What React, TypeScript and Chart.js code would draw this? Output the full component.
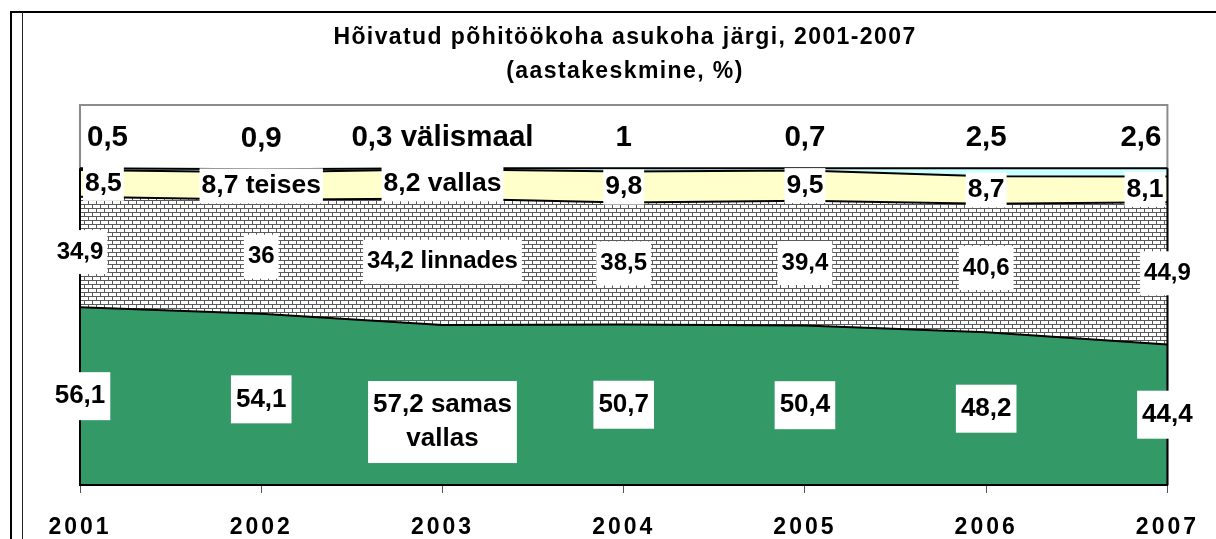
import React, { useEffect, useRef } from 'react';
import { Chart, registerables } from 'chart.js';

Chart.register(...registerables);

// ---- data ----
const years = ['2001', '2002', '2003', '2004', '2005', '2006', '2007'];
const samasVallas = [56.1, 54.1, 50.5, 50.7, 50.4, 48.2, 44.4];
const teisesLinnas = [34.9, 36.0, 40.0, 38.5, 39.4, 40.6, 44.9];
const teisesVallas = [8.5, 8.7, 9.2, 9.8, 9.5, 8.7, 8.1];
const valismaal = [0.5, 0.9, 0.3, 1.0, 0.7, 2.5, 2.6];

// data-label texts as printed on the chart
const samasVallasLabels = ['56,1', '54,1', '57,2 samas\nvallas', '50,7', '50,4', '48,2', '44,4'];
const teisesLinnasLabels = ['34,9', '36', '34,2 linnades', '38,5', '39,4', '40,6', '44,9'];
const teisesVallasLabels = ['8,5', '8,7 teises', '8,2 vallas', '9,8', '9,5', '8,7', '8,1'];
const valismaalLabels = ['0,5', '0,9', '0,3 välismaal', '1', '0,7', '2,5', '2,6'];

const titleLines = ['Hõivatud põhitöökoha asukoha järgi, 2001-2007', '(aastakeskmine, %)'];

const FONT = '"Liberation Sans", Arial, Helvetica, sans-serif';

const seriesLabels = [samasVallasLabels, teisesLinnasLabels, teisesVallasLabels, valismaalLabels];
const labelStyles = [
  { size: 26, padX: 5, boxH: 48, gap: 34, box: true, clamp: false, above: false },
  { size: 24, padX: 4, boxH: 44, gap: 30, box: true, clamp: false, above: false },
  { size: 26.5, padX: 2, boxH: 35, gap: 30, box: true, clamp: true, above: false },
  { size: 29.5, padX: 4, boxH: 34, gap: 30, box: false, clamp: true, above: true },
];

const areaPlugin = {
  id: 'areaExtras',
  beforeDraw(chart: any) {
    chart.ctx.letterSpacing = '1.4px';
  },
  beforeDatasetsDraw(chart: any) {
    const { ctx, chartArea: a } = chart;
    ctx.save();
    ctx.strokeStyle = '#8c8c8c';
    ctx.lineWidth = 2;
    ctx.strokeRect(a.left, a.top, a.right - a.left, a.bottom - a.top);
    ctx.restore();
  },
  afterDatasetsDraw(chart: any) {
    const { ctx, chartArea: a } = chart;
    const xs = chart.scales.x;
    const ys = chart.scales.y;
    const sets = chart.data.datasets;
    const n = years.length;
    ctx.save();
    ctx.letterSpacing = '0px';
    // black vertical edges of the stacked areas
    ctx.strokeStyle = '#000';
    ctx.lineWidth = 2;
    for (const i of [0, n - 1]) {
      let tot = 0;
      sets.forEach((d: any) => (tot += d.data[i]));
      const px = xs.getPixelForValue(i);
      ctx.beginPath();
      ctx.moveTo(px, ys.getPixelForValue(0));
      ctx.lineTo(px, ys.getPixelForValue(tot));
      ctx.stroke();
    }
    // data labels
    for (let i = 0; i < n; i++) {
      let base = 0;
      sets.forEach((d: any, k: number) => {
        const v = d.data[i];
        const st = labelStyles[k];
        const lines = seriesLabels[k][i].split('\n');
        const px = xs.getPixelForValue(i);
        const cy = st.above
          ? ys.getPixelForValue(base + v) - 30
          : ys.getPixelForValue(base + v / 2);
        base += v;
        ctx.font = `bold ${st.size}px ${FONT}`;
        const w = Math.max(...lines.map((l: string) => ctx.measureText(l).width));
        const boxW = w + 2 * st.padX;
        const boxH = st.boxH + (lines.length - 1) * st.gap;
        let left = px - boxW / 2;
        if (st.clamp) {
          left = Math.max(a.left + 3, Math.min(left, a.right - 2 - boxW));
        }
        const top = cy - st.boxH / 2;
        if (st.box) {
          ctx.fillStyle = '#fff';
          ctx.fillRect(left, top, boxW, boxH);
        }
        ctx.fillStyle = '#000';
        ctx.textAlign = 'center';
        ctx.textBaseline = 'middle';
        lines.forEach((l: string, j: number) => {
          ctx.fillText(l, left + boxW / 2, top + st.boxH / 2 + j * st.gap);
        });
      });
    }
    ctx.restore();
    ctx.letterSpacing = '3px';
  },
  afterDraw(chart: any) {
    chart.ctx.letterSpacing = '0px';
  },
};

export default function App() {
  const ref = useRef<HTMLCanvasElement>(null);

  useEffect(() => {
    const canvas = ref.current!;
    const pc = document.createElement('canvas');
    pc.width = 8;
    pc.height = 8;
    const p = pc.getContext('2d')!;
    p.fillStyle = '#ffffff';
    p.fillRect(0, 0, 8, 8);
    p.fillStyle = '#5a5a5a';
    p.fillRect(0, 0, 8, 1);
    p.fillRect(0, 4, 8, 1);
    p.fillRect(0, 1, 1, 3);
    p.fillRect(4, 5, 1, 3);
    const pattern = canvas.getContext('2d')!.createPattern(pc, 'repeat')!;

    const common = { borderColor: '#000000', borderWidth: 2, pointRadius: 0, tension: 0 };
    const chart = new Chart(canvas, {
      type: 'line',
      data: {
        labels: years,
        datasets: [
          { label: 'samas vallas', data: samasVallas, fill: 'origin', backgroundColor: '#339966', ...common },
          { label: 'teises linnas', data: teisesLinnas, fill: '-1', backgroundColor: pattern, ...common },
          { label: 'teises vallas', data: teisesVallas, fill: '-1', backgroundColor: '#FFFFCC', ...common },
          { label: 'välismaal', data: valismaal, fill: '-1', backgroundColor: '#CCFFFF', ...common },
        ],
      },
      options: {
        responsive: false,
        animation: false,
        devicePixelRatio: 1,
        layout: { padding: { left: 80, right: 46, top: 0, bottom: -23 } },
        plugins: {
          legend: { display: false },
          tooltip: { enabled: false },
          title: {
            display: true,
            text: titleLines,
            color: '#000',
            font: { family: FONT, size: 23, weight: 'bold', lineHeight: 34 / 23 },
            padding: { top: 21, bottom: 16 },
          },
        },
        scales: {
          x: {
            offset: false,
            grid: {
              display: true,
              drawOnChartArea: false,
              drawTicks: true,
              tickLength: 8,
              color: '#555555',
              lineWidth: 1,
            },
            border: { display: true, color: '#000', width: 2, z: 1 },
            ticks: {
              color: '#000',
              padding: 23,
              z: 1,
              maxRotation: 0,
              font: { family: FONT, size: 23, weight: 'bold', lineHeight: 1 },
            },
          },
          y: {
            display: false,
            stacked: true,
            min: 0,
            max: 120,
          },
        },
      },
      plugins: [areaPlugin],
    } as any);
    return () => chart.destroy();
  }, []);

  return (
    <div
      style={{
        position: 'absolute',
        left: 0,
        top: 0,
        width: 1216,
        height: 539,
        background: '#fff',
        overflow: 'hidden',
      }}
    >
      <div style={{ position: 'absolute', left: 11, top: 11, width: 1205, height: 2, background: '#000' }} />
      <div style={{ position: 'absolute', left: 10, top: 11, width: 2, height: 528, background: '#000' }} />
      <div style={{ position: 'absolute', left: 22, top: 12, width: 1, height: 527, background: '#222' }} />
      <canvas
        ref={ref}
        width={1216}
        height={539}
        style={{ position: 'absolute', left: 0, top: 0, width: 1216, height: 539 }}
      />
    </div>
  );
}
